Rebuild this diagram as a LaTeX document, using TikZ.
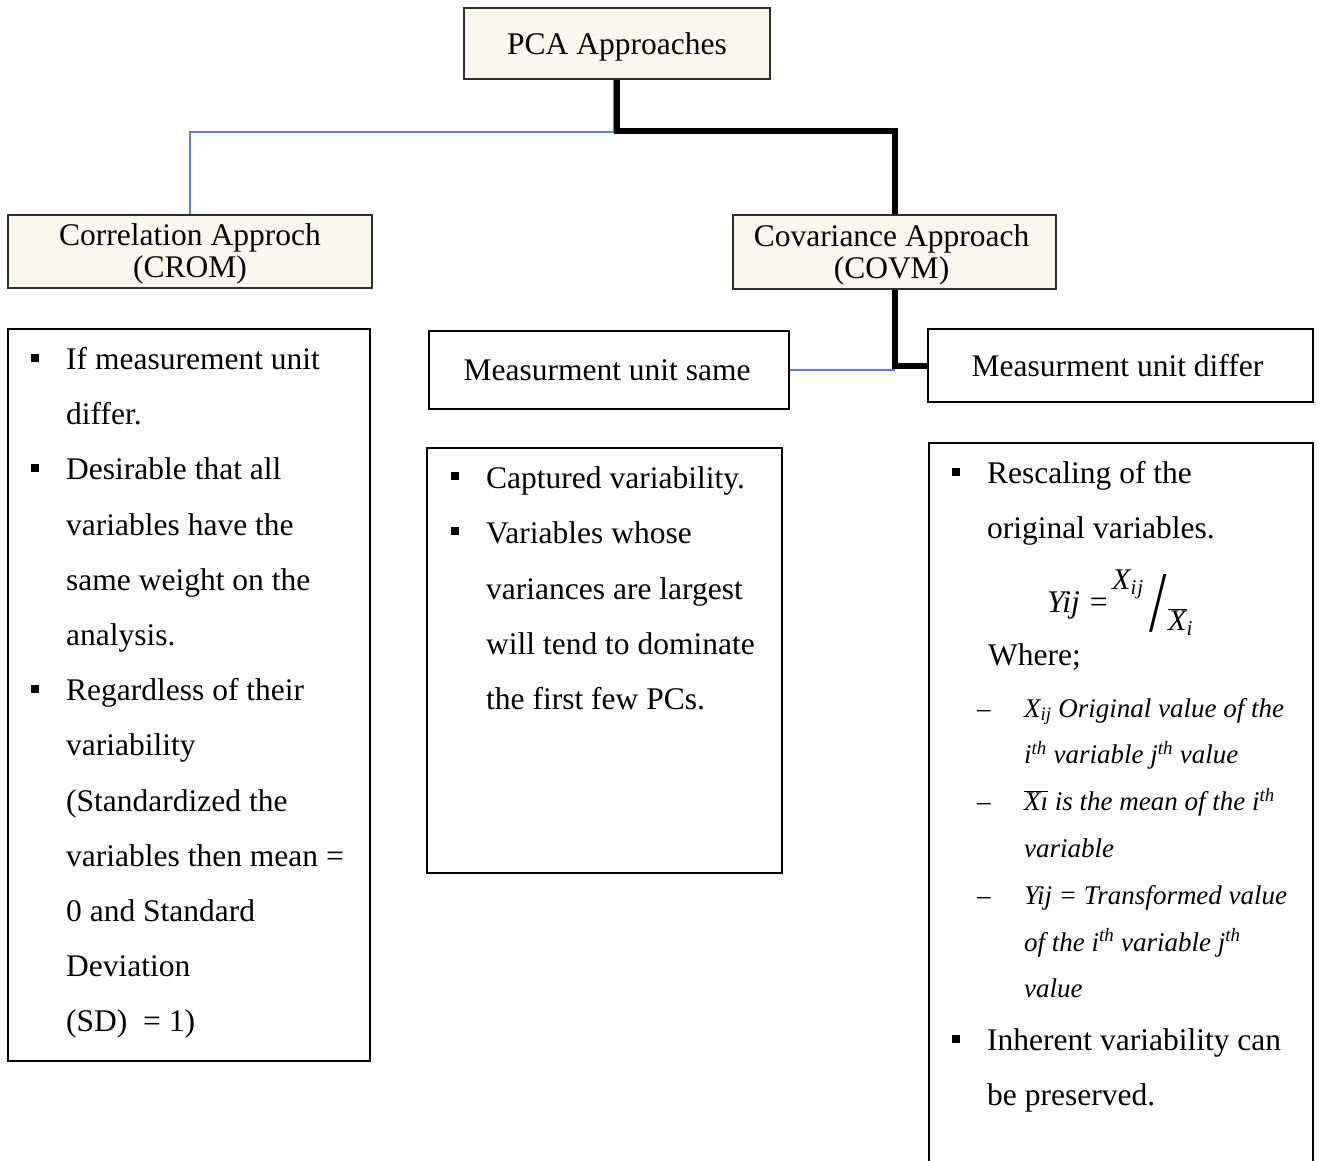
\documentclass[tikz,border=0pt]{standalone}
\usepackage{fontspec}
\setmainfont{Liberation Serif}
\usetikzlibrary{backgrounds}
\definecolor{creamfill}{RGB}{250,248,238}
\definecolor{boxline}{RGB}{45,45,45}
\definecolor{linkblue}{RGB}{84,135,205}
\tikzset{
  creambox/.style={draw=boxline, line width=1.5pt, fill=creamfill, inner sep=0pt},
  boxtext/.style={inner sep=0pt, align=center, font=\fontsize{31.5}{32}\selectfont},
  plainbox/.style={draw=black, line width=1.5pt, fill=white, inner sep=0pt, align=center, font=\fontsize{31.5}{38}\selectfont},
  ln/.style={anchor=base west, inner sep=0pt, font=\fontsize{31.5}{38}\selectfont},
  itln/.style={anchor=base west, inner sep=0pt, font=\fontsize{27}{32}\selectfont\itshape},
  sq/.style={fill=black, minimum size=8pt, inner sep=0pt},
  bluelink/.style={draw=linkblue, line width=1.5pt},
  blacklink/.style={draw=black, line width=6pt},
  shadowlink/.style={draw=black!30, line width=6pt, xshift=1.5pt, yshift=-1.5pt},
}
\begin{document}
\begin{tikzpicture}[x=1pt,y=-1pt]
\useasboundingbox (0,0) rectangle (1320,1160);
\clip (0,0) rectangle (1320,1160);

% header boxes
\node[creambox, minimum width=306pt, minimum height=71pt] (pca) at (617,43.5) {};
\node[boxtext] (pcat) at ([yshift=-3pt]pca.center) {PCA Approaches};
\node[creambox, minimum width=364pt, minimum height=73pt] (corr) at (190,251.5) {};
\node[boxtext] (corrt) at ([yshift=-2.5pt]corr.center) {Correlation Approch\\(CROM)};
\node[creambox, minimum width=323pt, minimum height=74pt] (cov) at (894.5,252) {};
\node[boxtext] (covt) at ([xshift=-3pt,yshift=-2.5pt]cov.center) {Covariance Approach\\(COVM)};

% second level
\node[plainbox, minimum width=360pt, minimum height=78pt] (same) at (609,370) {};
\node[boxtext] (samet) at ([xshift=-2pt]same.center) {Measurment unit same};
\node[plainbox, minimum width=385pt, minimum height=73pt] (differ) at (1120.5,365.5) {};
\node[boxtext] (differt) at ([xshift=-3pt]differ.center) {Measurment unit differ};

% list boxes
\node[plainbox, minimum width=362pt, minimum height=732pt] (lbox) at (189,695) {};
\node[plainbox, minimum width=355pt, minimum height=425pt] (mbox) at (604.5,660.5) {};
\node[plainbox, minimum width=384pt, minimum height=760pt] (rbox) at (1121,823) {};

% connectors
\begin{scope}[on background layer]
  \fill[white] (0,0) rectangle (1320,1160);
  \draw[bluelink] ([xshift=-3pt]pca.south) -- ++(0,52) -| (corr.north);
  \draw[shadowlink] (pca.south) -- ++(0,51) -| (cov.north);
  \draw[shadowlink] (cov.south) |- (differ.west);
  \draw[blacklink] (pca.south) -- ++(0,51) -| (cov.north);
  \draw[blacklink] (cov.south) |- (differ.west);
  \draw[bluelink] (same.east) -- (same.east -| cov.south);
\end{scope}

% left list
\foreach \t [count=\i] in {
  {If measurement unit},{differ.},{Desirable that all},{variables have the},
  {same weight on the},{analysis.},{Regardless of their},{variability},
  {(Standardized the},{variables then mean =},{0 and Standard},{Deviation},
  {(SD)\ \ = 1)}}
  \node[ln] (L\i) at (66,{369.5+55.2*(\i-1)}) {\t};
\foreach \i in {1,3,7}
  \node[sq] (LB\i) at (35,{357.5+55.2*(\i-1)}) {};

% middle list
\foreach \t [count=\i] in {
  {Captured variability.},{Variables whose},{variances are largest},
  {will tend to dominate},{the first few PCs.}}
  \node[ln] (M\i) at (486,{488.5+55.3*(\i-1)}) {\t};
\foreach \i in {1,2}
  \node[sq] (MB\i) at (455,{476+55.3*(\i-1)}) {};

% right list
\node[ln] (R1) at (987,483.5) {Rescaling of the};
\node[ln] (R2) at (987,538.5) {original variables.};
\node[sq] (RB1) at (956,472) {};
\node[ln, font=\fontsize{31.5}{38}\selectfont\itshape] (fy) at (1047,612) {Yij =};
\node[anchor=base west, inner sep=0pt, font=\fontsize{30}{30}\selectfont\itshape] (fn) at (1112,589) {X\textsubscript{i\kern1pt j}};
\node[inner sep=0pt, font=\fontsize{48}{48}\selectfont] (fs) at (1158,603) {\scalebox{1.3}[1.8]{/}};
\node[anchor=base west, inner sep=0pt, font=\fontsize{30}{30}\selectfont\itshape] (fd) at (1168,630) {$\overline{\hbox{X}}$\textsubscript{i}};
\node[ln] (R3) at (988,665) {Where;};

\node[itln] (I1) at (1024,717) {X\textsubscript{ij} Original value of the};
\node[itln] (I2) at (1024,763.8) {i\textsuperscript{th} variable j\textsuperscript{th} value};
\node[itln] (I3) at (1024,810.6) {$\overline{\hbox{X\i}}$ is the mean of the i\textsuperscript{th}};
\node[itln] (I4) at (1024,857.4) {variable};
\node[itln] (I5) at (1024,904.2) {Yij = Transformed value};
\node[itln] (I6) at (1024,951) {of the i\textsuperscript{th} variable j\textsuperscript{th}};
\node[itln] (I7) at (1024,997.8) {value};
\foreach \y [count=\k] in {717,810.6,904.2}
  \node[ln, font=\fontsize{27}{32}\selectfont] (D\k) at (977,\y) {–};

\node[ln] (R4) at (987,1050) {Inherent variability can};
\node[ln] (R5) at (987,1105) {be preserved.};
\node[sq] (RB2) at (956,1039) {};
\end{tikzpicture}
\end{document}
